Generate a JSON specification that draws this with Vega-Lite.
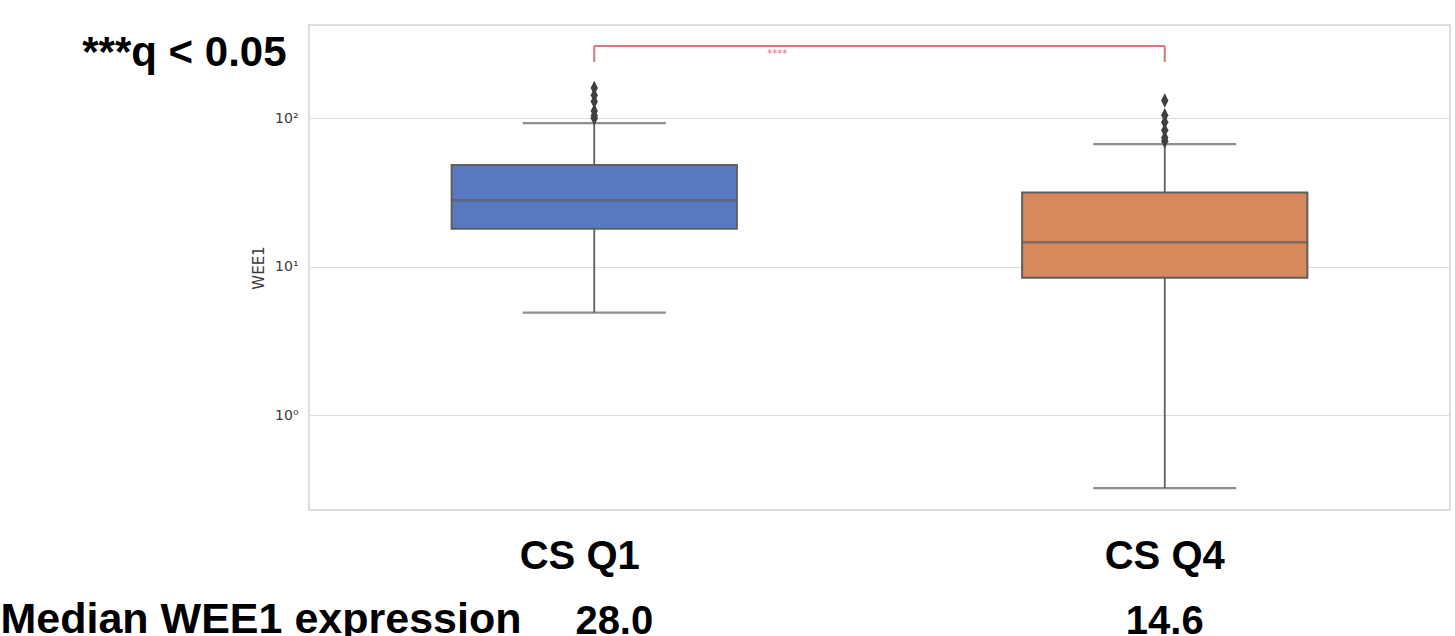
{
  "$schema": "https://vega.github.io/schema/vega-lite/v6.json",
  "width": 1141,
  "height": 485,
  "autosize": {"type": "none"},
  "padding": {"left": 309, "top": 25, "right": 5, "bottom": 126},
  "background": "white",
  "datasets": {
    "stats": [
      {"group": "CS Q1", "lower": 4.9, "q1": 18.0, "median": 28.0, "q3": 48.4, "upper": 93},
      {"group": "CS Q4", "lower": 0.322, "q1": 8.43, "median": 14.6, "q3": 31.6, "upper": 67}
    ],
    "outliers": [
      {"group": "CS Q1", "value": 100},
      {"group": "CS Q1", "value": 104},
      {"group": "CS Q1", "value": 112},
      {"group": "CS Q1", "value": 130},
      {"group": "CS Q1", "value": 143},
      {"group": "CS Q1", "value": 160},
      {"group": "CS Q4", "value": 70},
      {"group": "CS Q4", "value": 74},
      {"group": "CS Q4", "value": 83},
      {"group": "CS Q4", "value": 94},
      {"group": "CS Q4", "value": 105},
      {"group": "CS Q4", "value": 132}
    ],
    "bracket": [
      {"group": "CS Q1", "group2": "CS Q4", "level": 307, "foot": 240, "label": "****", "note": "***q < 0.05", "noteLevel": 225}
    ],
    "legs": [
      {"group": "CS Q1", "level": 307, "foot": 240},
      {"group": "CS Q4", "level": 307, "foot": 240}
    ]
  },
  "encoding": {
    "x": {
      "field": "group",
      "type": "nominal",
      "sort": ["CS Q1", "CS Q4"],
      "scale": {"paddingInner": 0, "paddingOuter": 0},
      "title": "Median WEE1 expression",
      "axis": {
        "labelAngle": 0,
        "ticks": false,
        "domain": false,
        "grid": false,
        "labelFont": "Liberation Sans",
        "labelFontSize": 40,
        "labelFontWeight": "bold",
        "labelColor": "#000000",
        "labelPadding": 26,
        "labelLineHeight": 65,
        "labelLimit": 400,
        "labelOverlap": false,
        "labelExpr": "datum.value == 'CS Q1' ? ['CS Q1\u2800', '\u2800\u00a028.0'] : ['CS Q4', '14.6']",
        "titleFont": "Liberation Sans",
        "titleFontSize": 43,
        "titleFontWeight": "bold",
        "titleColor": "#000000",
        "titleAngle": 0,
        "titleAlign": "left",
        "titleBaseline": "alphabetic",
        "titleX": -309,
        "titleY": 122
      }
    }
  },
  "layer": [
    {
      "data": {"name": "stats"},
      "mark": {"type": "rule", "color": "#5e5e5e", "strokeWidth": 1.8},
      "encoding": {
        "y": {"field": "lower", "type": "quantitative", "title": "WEE1",
              "scale": {"type": "log", "domain": [0.229, 426], "nice": false},
              "axis": {"values": [1, 10, 100], "labelExpr": "datum.value == 100 ? '10²' : datum.value == 10 ? '10¹' : '10⁰'"}},
        "y2": {"field": "q1"}
      }
    },
    {
      "data": {"name": "stats"},
      "mark": {"type": "rule", "color": "#5e5e5e", "strokeWidth": 1.8},
      "encoding": {
        "y": {"field": "q3", "type": "quantitative", "title": "WEE1",
              "scale": {"type": "log", "domain": [0.229, 426], "nice": false}},
        "y2": {"field": "upper"}
      }
    },
    {
      "data": {"name": "stats"},
      "mark": {"type": "tick", "color": "#5e5e5e", "size": 143, "thickness": 2.2, "orient": "horizontal"},
      "encoding": {
        "y": {"field": "lower", "type": "quantitative", "title": "WEE1",
              "scale": {"type": "log", "domain": [0.229, 426], "nice": false}}
      }
    },
    {
      "data": {"name": "stats"},
      "mark": {"type": "tick", "color": "#5e5e5e", "size": 143, "thickness": 2.2, "orient": "horizontal"},
      "encoding": {
        "y": {"field": "upper", "type": "quantitative", "title": "WEE1",
              "scale": {"type": "log", "domain": [0.229, 426], "nice": false}}
      }
    },
    {
      "data": {"name": "stats"},
      "mark": {"type": "bar", "width": {"band": 0.5}, "stroke": "#5e5e5e", "strokeWidth": 2, "opacity": 1},
      "encoding": {
        "y": {"field": "q1", "type": "quantitative", "title": "WEE1",
              "scale": {"type": "log", "domain": [0.229, 426], "nice": false}},
        "y2": {"field": "q3"},
        "color": {"field": "group", "type": "nominal",
                  "scale": {"domain": ["CS Q1", "CS Q4"], "range": ["#5879bf", "#d7885d"]},
                  "legend": null}
      }
    },
    {
      "data": {"name": "stats"},
      "mark": {"type": "tick", "color": "#5e5e5e", "size": 285, "thickness": 2.5, "orient": "horizontal"},
      "encoding": {
        "y": {"field": "median", "type": "quantitative", "title": "WEE1",
              "scale": {"type": "log", "domain": [0.229, 426], "nice": false}}
      }
    },
    {
      "data": {"name": "outliers"},
      "mark": {"type": "point", "filled": true, "shape": "M0,-1L0.5,0L0,1L-0.5,0Z", "size": 210, "color": "#3f3f3f", "opacity": 1},
      "encoding": {
        "y": {"field": "value", "type": "quantitative", "title": "WEE1",
              "scale": {"type": "log", "domain": [0.229, 426], "nice": false}}
      }
    },
    {
      "data": {"name": "bracket"},
      "mark": {"type": "rule", "color": "#d9767c", "strokeWidth": 2},
      "encoding": {
        "x2": {"field": "group2"},
        "y": {"field": "level", "type": "quantitative", "title": "WEE1",
              "scale": {"type": "log", "domain": [0.229, 426], "nice": false}}
      }
    },
    {
      "data": {"name": "legs"},
      "mark": {"type": "rule", "color": "#d9767c", "strokeWidth": 2},
      "encoding": {
        "y": {"field": "foot", "type": "quantitative", "title": "WEE1",
              "scale": {"type": "log", "domain": [0.229, 426], "nice": false}},
        "y2": {"field": "level"}
      }
    },
    {
      "data": {"name": "bracket"},
      "mark": {"type": "text", "color": "#d9767c", "fontSize": 10, "dx": 183, "dy": 3, "baseline": "top", "font": "DejaVu Sans"},
      "encoding": {
        "text": {"field": "label"},
        "y": {"field": "level", "type": "quantitative", "title": "WEE1",
              "scale": {"type": "log", "domain": [0.229, 426], "nice": false}}
      }
    },
    {
      "data": {"name": "bracket"},
      "mark": {"type": "text", "color": "#000000", "fontSize": 42, "fontWeight": "bold", "font": "Liberation Sans", "align": "left", "baseline": "alphabetic", "dx": -512},
      "encoding": {
        "text": {"field": "note"},
        "y": {"field": "noteLevel", "type": "quantitative", "title": "WEE1",
              "scale": {"type": "log", "domain": [0.229, 426], "nice": false}}
      }
    }
  ],
  "config": {
    "view": {"stroke": "#d2d2d2", "strokeWidth": 1.5},
    "axisY": {
      "grid": true,
      "gridColor": "#dcdcdc",
      "gridWidth": 1.2,
      "ticks": false,
      "domain": false,
      "labelFont": "DejaVu Sans",
      "labelFontSize": 14,
      "labelColor": "#3a3a3a",
      "labelPadding": 11,
      "titleFont": "DejaVu Sans",
      "titleFontSize": 15,
      "titleFontWeight": "normal",
      "titleColor": "#3a3a3a",
      "titlePadding": 8
    }
  }
}
